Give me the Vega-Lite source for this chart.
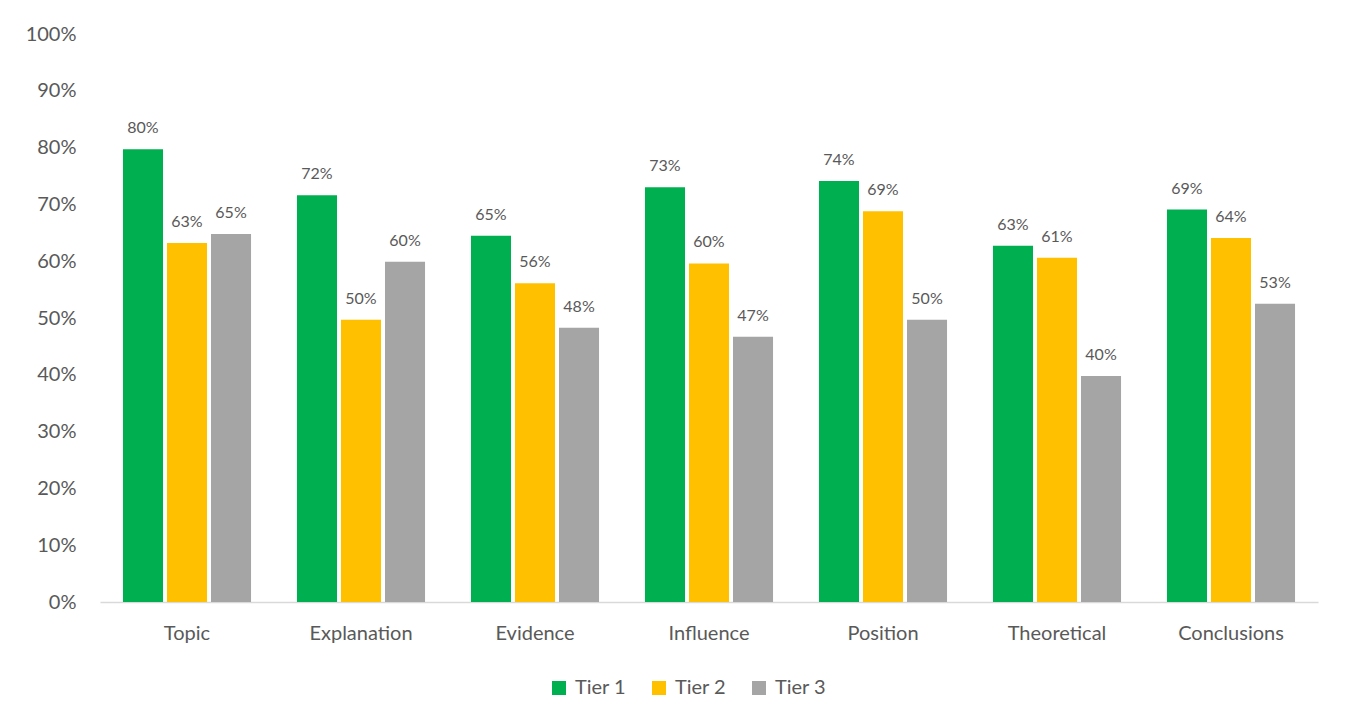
{
  "$schema": "https://vega.github.io/schema/vega-lite/v6.json",
  "width": 1218,
  "height": 568,
  "autosize": {"type": "none"},
  "padding": {"left": 100, "top": 34, "right": 29, "bottom": 121},
  "background": "white",
  "config": {
    "view": {"stroke": null},
    "font": "Lato"
  },
  "data": {
    "values": [
      {"category": "Topic", "tier": "Tier 1", "value": 0.797},
      {"category": "Topic", "tier": "Tier 2", "value": 0.632},
      {"category": "Topic", "tier": "Tier 3", "value": 0.648},
      {"category": "Explanation", "tier": "Tier 1", "value": 0.716},
      {"category": "Explanation", "tier": "Tier 2", "value": 0.497},
      {"category": "Explanation", "tier": "Tier 3", "value": 0.599},
      {"category": "Evidence", "tier": "Tier 1", "value": 0.645},
      {"category": "Evidence", "tier": "Tier 2", "value": 0.561},
      {"category": "Evidence", "tier": "Tier 3", "value": 0.483},
      {"category": "Influence", "tier": "Tier 1", "value": 0.730},
      {"category": "Influence", "tier": "Tier 2", "value": 0.596},
      {"category": "Influence", "tier": "Tier 3", "value": 0.467},
      {"category": "Position", "tier": "Tier 1", "value": 0.741},
      {"category": "Position", "tier": "Tier 2", "value": 0.688},
      {"category": "Position", "tier": "Tier 3", "value": 0.497},
      {"category": "Theoretical", "tier": "Tier 1", "value": 0.627},
      {"category": "Theoretical", "tier": "Tier 2", "value": 0.606},
      {"category": "Theoretical", "tier": "Tier 3", "value": 0.398},
      {"category": "Conclusions", "tier": "Tier 1", "value": 0.691},
      {"category": "Conclusions", "tier": "Tier 2", "value": 0.641},
      {"category": "Conclusions", "tier": "Tier 3", "value": 0.525}
    ]
  },
  "encoding": {
    "x": {
      "field": "category",
      "type": "nominal",
      "sort": null,
      "scale": {"paddingInner": 0.264, "paddingOuter": 0.132},
      "axis": {
        "title": null,
        "labelAngle": 0,
        "labelFontSize": 20,
        "labelColor": "#595959",
        "labelPadding": 21,
        "ticks": false,
        "domainColor": "#d9d9d9",
        "domainWidth": 1.5
      }
    },
    "xOffset": {
      "field": "tier",
      "type": "nominal",
      "scale": {"paddingInner": 0.09, "paddingOuter": 0}
    },
    "y": {
      "field": "value",
      "type": "quantitative",
      "scale": {"domain": [0, 1], "nice": false},
      "axis": {
        "title": null,
        "format": ".0%",
        "values": [0, 0.1, 0.2, 0.3, 0.4, 0.5, 0.6, 0.7, 0.8, 0.9, 1],
        "grid": false,
        "domain": false,
        "ticks": false,
        "labelFontSize": 20,
        "labelColor": "#595959",
        "labelPadding": 24
      }
    }
  },
  "layer": [
    {
      "mark": {"type": "bar"},
      "encoding": {
        "color": {
          "field": "tier",
          "type": "nominal",
          "scale": {"domain": ["Tier 1", "Tier 2", "Tier 3"], "range": ["#00b050", "#ffc000", "#a5a5a5"]},
          "legend": {
            "title": null,
            "orient": "none",
            "direction": "horizontal",
            "legendX": 449,
            "legendY": 644,
            "symbolType": "square",
            "symbolSize": 196,
            "symbolStrokeWidth": 0,
            "symbolOpacity": 1,
            "labelFontSize": 20,
            "labelColor": "#595959",
            "labelOffset": 6,
            "columnPadding": 22
          }
        }
      }
    },
    {
      "mark": {"type": "text", "baseline": "middle", "dy": -21, "fontSize": 16, "color": "#595959"},
      "encoding": {
        "text": {"field": "value", "type": "quantitative", "format": ".0%"}
      }
    }
  ]
}
